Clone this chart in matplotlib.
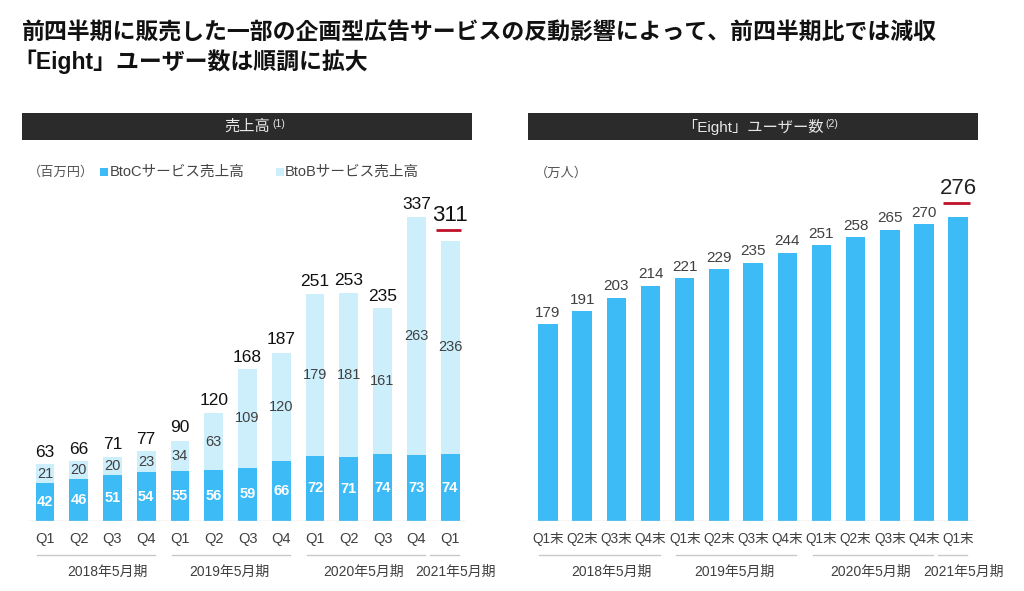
import matplotlib
matplotlib.use('Agg')
import matplotlib.pyplot as plt
from matplotlib.patches import Rectangle
from matplotlib.transforms import blended_transform_factory

plt.rcParams['font.family'] = ['Liberation Sans', 'Noto Sans CJK JP', 'DejaVu Sans']

# data
quarters = ['Q1', 'Q2', 'Q3', 'Q4', 'Q1', 'Q2', 'Q3', 'Q4', 'Q1', 'Q2', 'Q3', 'Q4', 'Q1']
quarters_end = [q + '末' for q in quarters]
years = ['2018年5月期', '2019年5月期', '2020年5月期', '2021年5月期']
year_span = [(0, 3), (4, 7), (8, 11), (12, 12)]
btoc = [42, 46, 51, 54, 55, 56, 59, 66, 72, 71, 74, 73, 74]
btob = [21, 20, 20, 23, 34, 63, 109, 120, 179, 181, 161, 263, 236]
total = [63, 66, 71, 77, 90, 120, 168, 187, 251, 253, 235, 337, 311]
users = [179, 191, 203, 214, 221, 229, 235, 244, 251, 258, 265, 270, 276]

BLUE = '#3DBBF7'
LIGHT = '#CDEEFB'
DARK = '#2B2B2B'
GRAY = '#404040'
RED = '#C0102A'

W, H = 1024, 591
fig = plt.figure(figsize=(W / 100, H / 100), dpi=100)


def fx(x):
    return x / W


def fy(y):
    return 1 - y / H


# title
fig.text(fx(22), fy(33), '前四半期に販売した一部の企画型広告サービスの反動影響によって、前四半期比では減収',
         fontsize=16.5, fontweight='bold', color='#111111', va='center')
fig.text(fx(13), fy(62), '「Eight」ユーザー数は順調に拡大',
         fontsize=16.5, fontweight='bold', color='#111111', va='center')

# header bars
for x0, x1, label, note in [(22, 472, '売上高', '(1)'), (528, 978, '「Eight」ユーザー数', '(2)')]:
    fig.add_artist(Rectangle((fx(x0), fy(140)), fx(x1 - x0), (140 - 113) / H,
                             transform=fig.transFigure, color=DARK, lw=0))
    t = fig.text(fx((x0 + x1) / 2), fy(127), label, fontsize=11, color='#E8E8E8',
                 ha='center', va='center')
    fig.canvas.draw()
    bb = t.get_window_extent()
    fig.text(bb.x1 / W + 0.002, fy(124), note, fontsize=7.5, color='#E8E8E8', va='center')

# left chart
axl = fig.add_axes([fx(22), fy(521), fx(450), (521 - 190) / H])
x = list(range(len(quarters)))
axl.bar(x, btoc, width=0.56, color=BLUE, lw=0)
axl.bar(x, btob, bottom=btoc, width=0.56, color=LIGHT, lw=0)
axl.set_xlim(-0.68, 12.65)
axl.set_ylim(0, 366)
for i in x:
    axl.text(i, btoc[i] / 2, str(btoc[i]), ha='center', va='center', color='white',
             fontsize=10.5, fontweight='bold')
    axl.text(i, btoc[i] + btob[i] / 2, str(btob[i]), ha='center', va='center', color=GRAY,
             fontsize=10.5)
    if i < len(x) - 1:
        axl.text(i, total[i] + 5, str(total[i]), ha='center', va='bottom', color='#111111',
                 fontsize=12.5)
    else:
        axl.text(i, total[i] + 15, str(total[i]), ha='center', va='bottom', color='#111111',
                 fontsize=16)
        axl.plot([i - 0.42, i + 0.33], [total[i] + 11, total[i] + 11], color=RED, lw=2,
                 solid_capstyle='butt')
axl.hlines(0, -0.5, 12.45, color='#D0D0D0', lw=1)
axl.set_xticks(x)
axl.set_xticklabels(quarters, fontsize=10.5, color=GRAY)
axl.tick_params(length=0, pad=8)
axl.set_yticks([])
for s in axl.spines.values():
    s.set_visible(False)

# legend row
fig.text(fx(28), fy(172), '（百万円）', fontsize=9.5, color='#555555', va='center')
fig.add_artist(Rectangle((fx(100), fy(176)), fx(8), 8 / H, transform=fig.transFigure,
                         color=BLUE, lw=0))
fig.text(fx(110), fy(172), 'BtoCサービス売上高', fontsize=10.5, color='#444444', va='center')
fig.add_artist(Rectangle((fx(276), fy(176)), fx(8), 8 / H, transform=fig.transFigure,
                         color=LIGHT, lw=0))
fig.text(fx(285), fy(172), 'BtoBサービス売上高', fontsize=10.5, color='#444444', va='center')

# right chart
axr = fig.add_axes([fx(528), fy(521), fx(450), (521 - 190) / H])
axr.bar(x, users, width=0.57, color=BLUE, lw=0)
axr.set_xlim(-0.585, 12.58)
axr.set_ylim(0, 301)
for i in x:
    if i < len(x) - 1:
        axr.text(i, users[i] + 4, str(users[i]), ha='center', va='bottom', color=GRAY,
                 fontsize=11)
    else:
        axr.text(i, users[i] + 17, str(users[i]), ha='center', va='bottom', color='#222222',
                 fontsize=16)
        axr.plot([i - 0.45, i + 0.35], [users[i] + 13, users[i] + 13], color=RED, lw=2,
                 solid_capstyle='butt')
axr.hlines(0, -0.45, 12.45, color='#D0D0D0', lw=1)
axr.set_xticks(x)
axr.set_xticklabels(quarters_end, fontsize=9.8, color=GRAY)
axr.tick_params(length=0, pad=8)
axr.set_yticks([])
for s in axr.spines.values():
    s.set_visible(False)
fig.text(fx(535), fy(173), '（万人）', fontsize=9.5, color='#555555', va='center')

# year groups
for ax in (axl, axr):
    tr = blended_transform_factory(ax.transData, fig.transFigure)
    for k, ((a, b), yr) in enumerate(zip(year_span, years)):
        lo = a - 0.25 if a != b else a - 0.6
        hi = b + 0.27
        ax.plot([lo, hi], [fy(555), fy(555)], transform=tr, color='#C8C8C8', lw=1,
                clip_on=False)
        if a == b:
            cx = a + 0.15
        elif k == 0:
            cx = (a + b) / 2 + 0.35
        else:
            cx = (a + b) / 2 - 0.05
        ax.text(cx, fy(572), yr, transform=tr, ha='center', va='center', fontsize=10,
                color=GRAY, clip_on=False)

fig.savefig('out.png', dpi=100)
